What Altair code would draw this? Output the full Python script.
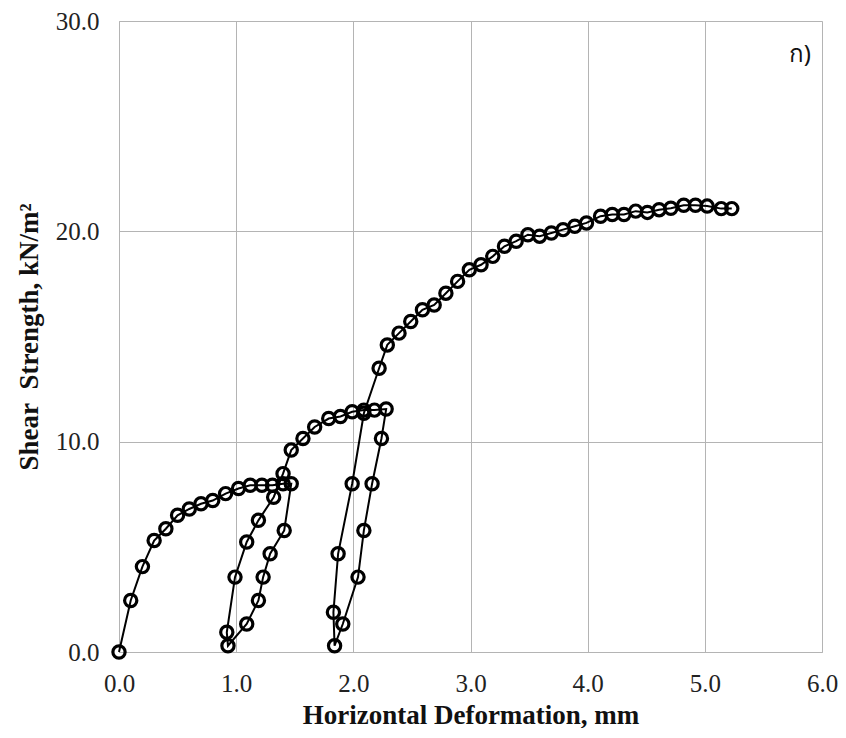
import altair as alt
import pandas as pd

# Loading branch 1
load1_x = [0.00, 0.10, 0.20, 0.30, 0.40, 0.50, 0.60, 0.70, 0.80, 0.91, 1.02, 1.12, 1.22, 1.31, 1.40, 1.47]
load1_y = [0.00, 2.45, 4.06, 5.30, 5.86, 6.50, 6.80, 7.05, 7.20, 7.53, 7.77, 7.93, 7.93, 7.93, 8.00, 8.00]
# Unloading 1
unload1_x = [1.41, 1.29, 1.23, 1.19, 1.09, 0.93]
unload1_y = [5.78, 4.67, 3.56, 2.45, 1.33, 0.30]
# Reloading 1
reload1_x = [0.92, 0.99, 1.09, 1.19, 1.32]
reload1_y = [0.94, 3.56, 5.23, 6.26, 7.36]
# Loading branch 2
load2_x = [1.40, 1.47, 1.57, 1.67, 1.79, 1.89, 1.99, 2.09, 2.18, 2.28]
load2_y = [8.48, 9.60, 10.15, 10.70, 11.10, 11.20, 11.42, 11.50, 11.50, 11.55]
# Unloading 2
unload2_x = [2.24, 2.16, 2.09, 2.04, 1.91, 1.84]
unload2_y = [10.15, 8.00, 5.78, 3.56, 1.33, 0.30]
# Reloading 2
reload2_x = [1.83, 1.87, 1.99, 2.09]
reload2_y = [1.89, 4.67, 8.00, 11.35]
# Loading branch 3
load3_x = [2.22, 2.29, 2.39, 2.49, 2.59, 2.69, 2.79, 2.89, 2.99, 3.09, 3.19, 3.29, 3.39, 3.49, 3.59,
           3.69, 3.79, 3.89, 3.99, 4.11, 4.21, 4.31, 4.41, 4.51, 4.61, 4.71, 4.82, 4.92, 5.02, 5.14, 5.23]
load3_y = [13.49, 14.60, 15.16, 15.71, 16.27, 16.50, 17.06, 17.62, 18.17, 18.41, 18.81, 19.29, 19.53, 19.84, 19.77,
           19.92, 20.08, 20.24, 20.40, 20.72, 20.80, 20.80, 20.96, 20.90, 21.03, 21.10, 21.24, 21.24, 21.20, 21.08, 21.08]

x_ticks = [0, 1, 2, 3, 4, 5, 6]
y_ticks = [0, 10, 20, 30]

panel_label = ["ก)"]
panel_x = [5.81]
panel_y = [28.4]

xs = load1_x + unload1_x + reload1_x + load2_x + unload2_x + reload2_x + load3_x
ys = load1_y + unload1_y + reload1_y + load2_y + unload2_y + reload2_y + load3_y
df = pd.DataFrame({"x": xs, "y": ys, "i": list(range(len(xs)))})
lab = pd.DataFrame({"t": panel_label, "x": panel_x, "y": panel_y})

serif = "Liberation Serif"
grid_col = "#b4b4b4"

xenc = alt.X("x:Q", scale=alt.Scale(domain=[0, 6], nice=False),
             axis=alt.Axis(values=x_ticks, format=".1f", title="Horizontal Deformation, mm",
                           grid=True, gridColor=grid_col, gridWidth=1,
                           domainColor=grid_col, ticks=False, labelFlush=False,
                           labelFont=serif, labelFontSize=25, labelColor="#222",
                           labelPadding=19,
                           titleFont=serif, titleFontSize=27, titleFontWeight="bold",
                           titleColor="#111", titlePadding=6))
yenc = alt.Y("y:Q", scale=alt.Scale(domain=[0, 30], nice=False),
             axis=alt.Axis(values=y_ticks, format=".1f", title="Shear\u00a0\u00a0Strength, kN/m²",
                           grid=True, gridColor=grid_col, gridWidth=1,
                           domainColor=grid_col, ticks=False, labelFlush=False,
                           labelFont=serif, labelFontSize=25, labelColor="#222",
                           labelPadding=20,
                           titleFont=serif, titleFontSize=27, titleFontWeight="bold",
                           titleColor="#111", titlePadding=12))

base = alt.Chart(df)
line = base.mark_line(color="black", strokeWidth=2).encode(x=xenc, y=yenc, order="i:Q")
pts = base.mark_point(shape="circle", filled=False, color="black", strokeWidth=3.2, size=150, opacity=1).encode(
    x="x:Q", y="y:Q")
txt = alt.Chart(lab).mark_text(font="Noto Sans", fontSize=24, color="#111").encode(
    x="x:Q", y="y:Q", text="t:N")

chart = alt.layer(line, pts, txt).properties(
    width=703, height=631,
    padding={"left": 7, "top": 1, "right": 0, "bottom": 0},
).configure_view(stroke=grid_col, strokeWidth=1).configure(background="white")

chart.save("out.html", embed_options={"renderer": "svg", "actions": False})
